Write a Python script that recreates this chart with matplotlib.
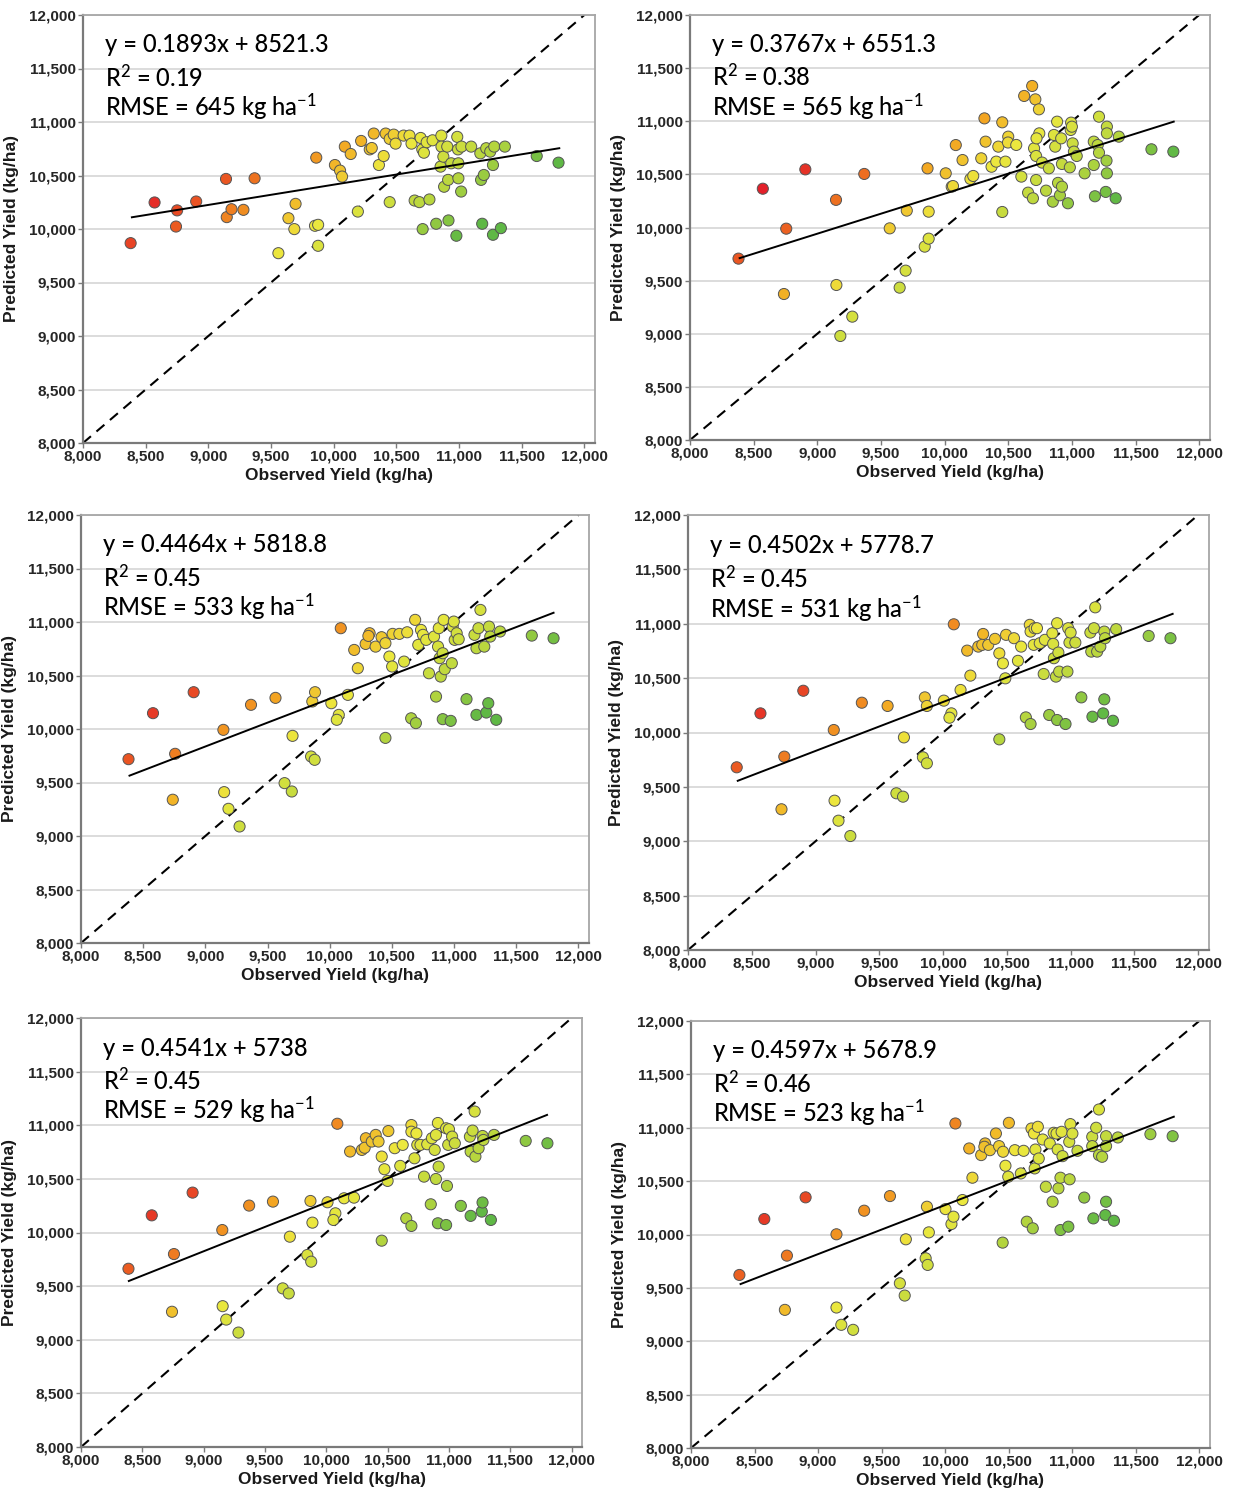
import matplotlib
matplotlib.use('Agg')
import matplotlib.pyplot as plt
import numpy as np
from matplotlib.colors import LinearSegmentedColormap, Normalize
from matplotlib.ticker import FuncFormatter, MultipleLocator

# observed / predicted yields (kg/ha), read per panel
obs1 = [8380, 8571, 8742, 8751, 8903, 9141, 9147, 9185, 9280, 9369, 9559, 9639, 9686, 9696,
        9851, 9861, 9876, 9876, 10010, 10051, 10067, 10089, 10136, 10193, 10219, 10288, 10304,
        10320, 10361, 10399, 10415, 10447, 10447, 10479, 10494, 10558, 10605, 10621, 10646,
        10684, 10694, 10707, 10710, 10720, 10742, 10764, 10789, 10818, 10859, 10860, 10853,
        10875, 10881, 10906, 10913, 10916, 10938, 10979, 10986, 10992, 10995, 10995, 11017,
        11020, 11097, 11170, 11176, 11185, 11198, 11217, 11249, 11271, 11271, 11281, 11334,
        11366, 11620, 11794]
pred1 = [9868, 10248, 10023, 10174, 10257, 10468, 10111, 10185, 10179, 10474, 9774, 10101, 9999,
         10235, 10030, 10667, 10039, 9843, 10598, 10546, 10490, 10770, 10701, 10163, 10823, 10744,
         10757, 10892, 10598, 10682, 10892, 10842, 10251, 10882, 10798, 10873, 10873, 10798, 10266,
         10251, 10851, 10744, 9999, 10713, 10811, 10276, 10829, 10049, 10873, 10770, 10583, 10676,
         10395, 10770, 10459, 10080, 10614, 9937, 10861, 10744, 10614, 10474, 10350, 10770, 10770,
         10707, 10459, 10049, 10505, 10755, 10723, 9946, 10598, 10770, 10008, 10770, 10682, 10620]

obs2 = [8381, 8572, 8906, 8756, 8738, 9147, 9150, 9181, 9275, 9369, 9569, 9647, 9694, 9703,
        9844, 9875, 9875, 9866, 10009, 10056, 10066, 10088, 10141, 10203, 10225, 10288, 10313,
        10322, 10369, 10406, 10422, 10453, 10453, 10478, 10500, 10498, 10563, 10603, 10625, 10656,
        10688, 10694, 10703, 10713, 10719, 10719, 10741, 10744, 10722, 10766, 10797, 10819, 10850,
        10859, 10869, 10884, 10891, 10906, 10916, 10922, 10922, 10969, 10984, 10991, 10994, 11000,
        11006, 11016, 11038, 11100, 11172, 11181, 11172, 11203, 11213, 11213, 11266, 11275, 11275,
        11272, 11275, 11344, 11369, 11625, 11797]
pred2 = [9707, 10365, 10547, 9989, 9374, 10260, 9459, 8979, 9161, 10504, 9992, 9434, 9594, 10159,
         9820, 9895, 10149, 10557, 10510, 10384, 10390, 10776, 10635, 10457, 10485, 10651, 11027,
         10808, 10572, 10620, 10761, 10990, 10146, 10620, 10855, 10800, 10777, 10479, 11238, 10328,
         11332, 10275, 10745, 11206, 10447, 10673, 11112, 10886, 10839, 10611, 10347, 10557, 10243,
         10871, 10761, 10996, 10420, 10303, 10839, 10598, 10384, 10228, 10566, 10918, 10987, 10949,
         10792, 10714, 10673, 10510, 10808, 10294, 10588, 10776, 11043, 10704, 10335, 10949, 10886,
         10629, 10510, 10275, 10855, 10736, 10714]

obs3 = [8382, 8579, 8906, 8757, 8738, 9145, 9151, 9186, 9275, 9367, 9564, 9637, 9695, 9701,
        9860, 9882, 9850, 9879, 10013, 10073, 10057, 10089, 10146, 10197, 10226, 10289, 10321,
        10311, 10369, 10417, 10448, 10448, 10480, 10502, 10506, 10560, 10598, 10623, 10655, 10687,
        10693, 10712, 10734, 10750, 10776, 10798, 10839, 10855, 10877, 10871, 10884, 10893, 10916,
        10909, 10925, 10909, 10973, 10982, 10989, 10998, 11005, 11021, 11037, 11100, 11164, 11180,
        11180, 11196, 11212, 11243, 11259, 11275, 11281, 11291, 11339, 11370, 11625, 11800]
pred3 = [9718, 10148, 10344, 9768, 9339, 9992, 9410, 9254, 9089, 10226, 10291, 9494, 9416, 9936,
         10257, 10344, 9743, 9712, 10241, 10132, 10086, 10942, 10319, 10739, 10568, 10795, 10895,
         10870, 10770, 10858, 10802, 9917, 10677, 10584, 10889, 10889, 10630, 10904, 10100, 11020,
         10055, 10786, 10926, 10880, 10833, 10521, 10864, 10303, 10942, 10770, 10662, 10490, 11020,
         10092, 10559, 10708, 10076, 10615, 10957, 11004, 10833, 10895, 10839, 10279, 10880, 10755,
         10132, 10942, 11113, 10770, 10154, 10241, 10957, 10864, 10086, 10911, 10873, 10848]

obs4 = [8382, 8568, 8904, 8755, 8733, 9143, 9149, 9180, 9273, 9363, 9565, 9634, 9686, 9693,
        9842, 9873, 9857, 9873, 10006, 10065, 10050, 10084, 10137, 10189, 10214, 10276, 10314,
        10307, 10354, 10407, 10441, 10441, 10469, 10488, 10494, 10556, 10612, 10587, 10649, 10680,
        10686, 10686, 10717, 10711, 10736, 10758, 10789, 10798, 10832, 10857, 10863, 10869, 10885,
        10894, 10894, 10910, 10904, 10960, 10975, 10981, 10991, 11000, 11037, 11084, 11155, 11162,
        11171, 11183, 11193, 11208, 11233, 11255, 11264, 11264, 11270, 11332, 11357, 11612, 11783]
pred4 = [9680, 10176, 10384, 9778, 9294, 10023, 9373, 9189, 9048, 10274, 10244, 9441, 9410, 9955,
         9772, 9717, 10323, 10244, 10293, 10176, 10136, 10995, 10391, 10753, 10523, 10790, 10906,
         10806, 10806, 10861, 10728, 9937, 10636, 10498, 10898, 10867, 10790, 10659, 10139, 10990,
         10078, 10928, 10959, 10806, 10959, 10821, 10538, 10852, 10161, 10913, 10815, 10683, 10514,
         11005, 10115, 10560, 10735, 10078, 10560, 10959, 10827, 10919, 10827, 10323, 10919, 10744,
         10145, 10959, 11151, 10744, 10790, 10176, 10928, 10305, 10867, 10108, 10950, 10888, 10867]

obs5 = [8387, 8577, 8910, 8758, 8742, 9152, 9155, 9184, 9284, 9371, 9565, 9645, 9694, 9703,
        9845, 9877, 9871, 9887, 10010, 10074, 10058, 10090, 10145, 10194, 10226, 10290, 10323,
        10313, 10371, 10403, 10426, 10452, 10452, 10474, 10500, 10506, 10558, 10603, 10623, 10652,
        10694, 10694, 10694, 10719, 10735, 10742, 10768, 10797, 10823, 10852, 10861, 10884, 10894,
        10910, 10910, 10916, 10894, 10977, 10984, 10977, 10994, 11000, 11026, 11048, 11097, 11171,
        11177, 11177, 11193, 11210, 11216, 11242, 11268, 11274, 11274, 11281, 11342, 11368, 11626,
        11803]
pred5 = [9662, 10160, 10372, 9799, 9261, 10023, 9313, 9188, 9067, 10251, 10288, 9479, 9432, 9961,
         9790, 9728, 10294, 10092, 10282, 10179, 10117, 11014, 10319, 10755, 10325, 10770, 10879,
         10790, 10848, 10910, 10848, 10708, 9924, 10590, 10481, 10946, 10786, 10621, 10817, 10132,
         11002, 10061, 10940, 10692, 10924, 10817, 10817, 10521, 10823, 10263, 10879, 10770, 10499,
         11021, 10086, 10614, 10910, 10070, 10434, 10972, 10817, 10963, 10894, 10832, 10248, 10894,
         10754, 10155, 10950, 11128, 10708, 10786, 10195, 10900, 10280, 10863, 10117, 10910, 10854,
         10832]

obs6 = [8381, 8577, 8902, 8755, 8739, 9145, 9145, 9183, 9276, 9363, 9566, 9644, 9682, 9691,
        9847, 9863, 9857, 9872, 10003, 10050, 10066, 10081, 10137, 10190, 10215, 10284, 10315,
        10309, 10353, 10400, 10425, 10456, 10453, 10475, 10497, 10502, 10549, 10596, 10618, 10643,
        10680, 10690, 10699, 10705, 10711, 10730, 10737, 10768, 10793, 10824, 10846, 10855, 10877,
        10886, 10892, 10908, 10908, 10917, 10924, 10970, 10977, 10980, 10986, 11002, 11042, 11095,
        11158, 11158, 11167, 11189, 11211, 11211, 11236, 11261, 11267, 11267, 11267, 11329, 11360,
        11616, 11791]
pred6 = [9621, 10145, 10348, 9802, 9294, 10002, 9316, 9154, 9107, 10223, 10360, 9543, 9428, 9955,
         9777, 9715, 10260, 10020, 10238, 10098, 10167, 11040, 10323, 10806, 10532, 10744, 10853,
         10822, 10790, 10946, 10828, 10775, 9924, 10644, 10541, 11046, 10790, 10572, 10784, 10120,
         10993, 10058, 10946, 10619, 10796, 11009, 10712, 10890, 10447, 10853, 10307, 10953, 10946,
         10796, 10432, 10532, 10042, 10962, 10734, 10073, 10868, 10517, 11034, 10946, 10784, 10346,
         10915, 10828, 10151, 11000, 11171, 10744, 10728, 10182, 10921, 10307, 10828, 10129, 10909,
         10940, 10921]

slopes = [0.1893, 0.3767, 0.4464, 0.4502, 0.4541, 0.4597]
intercepts = [8521.3, 6551.3, 5818.8, 5778.7, 5738, 5678.9]
r2 = ['0.19', '0.38', '0.45', '0.45', '0.45', '0.46']
rmse = [645, 565, 533, 531, 529, 523]
fit_range = [8390, 11800]

obs_all = [obs1, obs2, obs3, obs4, obs5, obs6]
pred_all = [pred1, pred2, pred3, pred4, pred5, pred6]

# axes boxes in pixels: left, right, top, bottom
W, H = 1233, 1495
boxes = [(83, 595, 15, 443), (690, 1210, 15, 440),
         (81, 589, 515, 943), (688, 1209, 515, 950),
         (81, 582, 1018, 1447), (691, 1210, 1021, 1448)]

plt.rcParams['mathtext.fontset'] = 'custom'
plt.rcParams['mathtext.rm'] = 'Lato:medium'
plt.rcParams['mathtext.default'] = 'regular'

# residual colour scale: green (under) -> yellow -> red (over)
vmin, vmax = -1100, 1800
def pos(v):
    return (v - vmin) / (vmax - vmin)
cmap = LinearSegmentedColormap.from_list('resid', [
    (0.0, '#5fb845'), (pos(-500), '#b8d63e'), (pos(200), '#ece83e'),
    (pos(700), '#f3a822'), (pos(1200), '#ec6520'), (1.0, '#e3202a')])
norm = Normalize(vmin, vmax)

tick_font = dict(family=['Liberation Sans', 'DejaVu Sans'], weight='bold', size=11)
label_font = dict(family=['Liberation Sans', 'DejaVu Sans'], weight='bold', size=12.5)

fig = plt.figure(figsize=(W / 100, H / 100), dpi=100)

for i in range(6):
    l, r, t, b = boxes[i]
    ax = fig.add_axes([l / W, 1 - b / H, (r - l) / W, (b - t) / H])
    obs = np.array(obs_all[i])
    pred = np.array(pred_all[i])

    ax.set_xlim(8000, 12085)
    ax.set_ylim(8000, 12000)
    ax.yaxis.set_major_locator(MultipleLocator(500))
    ax.xaxis.set_major_locator(MultipleLocator(500))
    fmt = FuncFormatter(lambda v, p: f'{v:,.0f}')
    ax.xaxis.set_major_formatter(fmt)
    ax.yaxis.set_major_formatter(fmt)
    ax.grid(axis='y', color='#d9d9d9', linewidth=1.3, zorder=0)
    ax.set_axisbelow(True)

    for side in ['left', 'bottom']:
        ax.spines[side].set_color('#7a7a7a')
        ax.spines[side].set_linewidth(1.6)
    for side in ['top', 'right']:
        ax.spines[side].set_color('#a6a6a6')
        ax.spines[side].set_linewidth(1.3)
    ax.tick_params(direction='out', length=3.5, width=1, color='#7a7a7a', pad=1.5,
                   labelcolor='#262626')
    for lab in ax.get_xticklabels() + ax.get_yticklabels():
        lab.set_fontproperties(matplotlib.font_manager.FontProperties(**tick_font))

    # 1:1 line
    ax.plot([8000, 12000], [8000, 12000], color='black', linestyle=(0, (5, 3.5)),
            linewidth=1.5, zorder=2)

    ax.scatter(obs, pred, s=64, c=pred - obs, cmap=cmap, norm=norm,
               edgecolors='#555555', linewidths=0.7, zorder=3)

    xs = np.array(fit_range)
    ax.plot(xs, slopes[i] * xs + intercepts[i], color='black', linewidth=1.4, zorder=4)

    ax.set_xlabel('Observed Yield (kg/ha)', color='#1a1a1a', labelpad=3, **label_font)
    ax.set_ylabel('Predicted Yield (kg/ha)', color='#1a1a1a', labelpad=7, **label_font)

    txt = dict(transform=ax.transAxes, fontsize=17, family=['Lato', 'DejaVu Sans'],
               weight='medium', color='black', va='center', ha='left')
    ax.text(0.043, 0.93, f'y = {slopes[i]}x + {intercepts[i]:g}', **txt)
    ax.text(0.043, 0.855, f'R$^{{2}}$ = {r2[i]}', **txt)
    ax.text(0.043, 0.785, f'RMSE = {rmse[i]} kg ha$^{{-1}}$', **txt)

fig.savefig('out.png', dpi=100)
